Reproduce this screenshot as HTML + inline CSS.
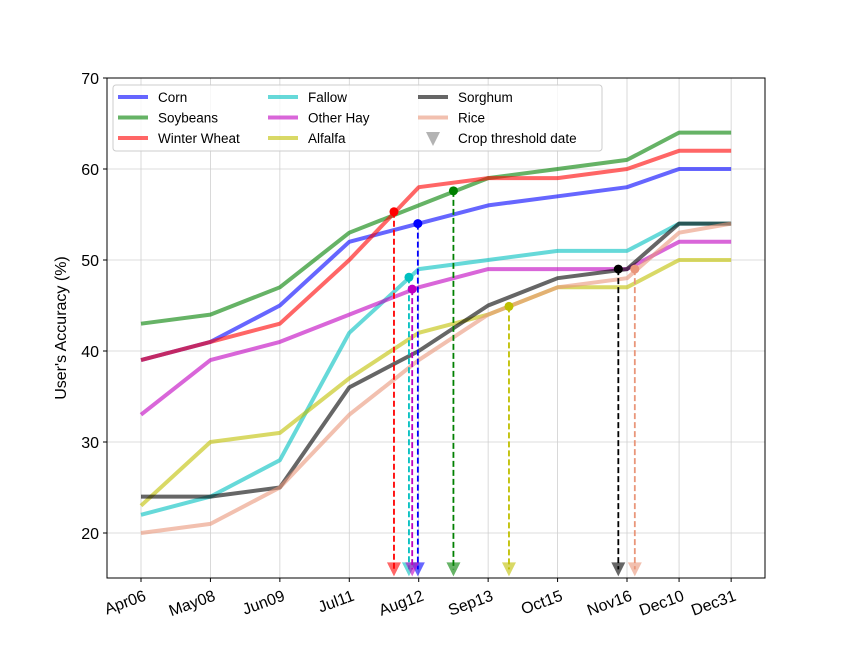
<!DOCTYPE html>
<html><head><meta charset="utf-8"><style>
body{margin:0;background:#fff;}
svg{display:block;font-family:"Liberation Sans",sans-serif;}
</style></head><body>
<svg id="chart" width="850" height="650"></svg>
<script>
const dayLabels=["Apr06","May08","Jun09","Jul11","Aug12","Sep13","Oct15","Nov16","Dec10","Dec31"];
const days=[96,128,160,192,224,256,288,320,344,368];
const corn=[39,41,45,52,54,56,57,58,60,60];
const soybeans=[43,44,47,53,56,59,60,61,64,64];
const winterWheat=[39,41,43,50,58,59,59,60,62,62];
const fallow=[22,24,28,42,49,50,51,51,54,54];
const otherHay=[33,39,41,44,47,49,49,49,52,52];
const alfalfa=[23,30,31,37,42,44,47,47,50,50];
const sorghum=[24,24,25,36,40,45,48,49,54,54];
const rice=[20,21,25,33,39,44,47,48,53,54];
const seriesNames=["Corn","Soybeans","Winter Wheat","Fallow","Other Hay","Alfalfa","Sorghum","Rice"];
const thresholdDays=[223.6,240,212.6,219.5,221,265.6,316,323.6];
const thresholdValues=[54,57.6,55.3,48.1,46.8,44.9,49,49];
const yTicks=[20,30,40,50,60,70];

const allSeries=[corn,soybeans,winterWheat,fallow,otherHay,alfalfa,sorghum,rice];
const colors=["#0000ff","#008000","#ff0000","#00bfbf","#bf00bf","#bfbf00","#000000","#e9967a"];
const slugs=["corn","soybeans","winter-wheat","fallow","other-hay","alfalfa","sorghum","rice"];
const L=107,R=765,T=78,B=578;
const x=d=>141+(d-96)*(486/224);
const y=v=>533-(v-20)*9.1;
const svg=document.getElementById('chart');
const NS="http://www.w3.org/2000/svg";
function mk(tag,attrs,parent){const e=document.createElementNS(NS,tag);for(const k in attrs)e.setAttribute(k,attrs[k]);(parent||svg).appendChild(e);return e;}

// grid
yTicks.forEach(v=>{
 const g=mk('line',{x1:L,x2:R,y1:y(v),y2:y(v),stroke:'#d0d0d0','stroke-width':0.8});
 
 
 mk('line',{x1:L-4,x2:L,y1:y(v),y2:y(v),stroke:'#000'});
 const t=mk('text',{x:L-8,y:y(v)+6,'text-anchor':'end','font-size':16});
 t.textContent=v;
 
 
});
days.forEach((d,i)=>{
 const g=mk('line',{x1:x(d),x2:x(d),y1:T,y2:B,stroke:'#d0d0d0','stroke-width':0.8});
 
 
 mk('line',{x1:x(d),x2:x(d),y1:B,y2:B+4,stroke:'#000'});
 const t=mk('text',{x:x(d)+6,y:B+22,'text-anchor':'end','font-size':16,transform:`rotate(-20 ${x(d)+6} ${B+22})`});
 t.textContent=dayLabels[i];
 
 
});

// lines
allSeries.forEach((s,i)=>{
 const p=mk('polyline',{points:s.map((v,j)=>x(days[j])+','+y(v)).join(' '),fill:'none',stroke:colors[i],'stroke-opacity':0.6,'stroke-width':4,'stroke-linejoin':'round'});
 
 
});
// thresholds
thresholdDays.forEach((d,i)=>{
 const xx=x(d),yy=y(thresholdValues[i]),ty=y(16);
 const l=mk('line',{x1:xx,x2:xx,y1:yy,y2:ty,stroke:colors[i],'stroke-width':1.8,'stroke-dasharray':'6,3'});
 
 
 const c=mk('circle',{cx:xx,cy:yy,r:4.5,fill:colors[i]});
 
 
 const tr=mk('polygon',{points:`${xx-7},${ty-7} ${xx+7},${ty-7} ${xx},${ty+7}`,fill:colors[i],'fill-opacity':0.6});
 
 
});
// axes frame
mk('rect',{x:L,y:T,width:R-L,height:B-T,fill:'none',stroke:'#000','stroke-width':1});
const yl=mk('text',{x:66,y:328,'text-anchor':'middle','font-size':16,transform:'rotate(-90 66 328)'});
yl.textContent="User's Accuracy (%)";



// legend
const lg=mk('g',{});


mk('rect',{x:113,y:85,width:489,height:66,rx:3,fill:'#fff','fill-opacity':0.8,stroke:'#ccc'},lg);
const cols=[118,268,418];
const labels=seriesNames.concat(["Crop threshold date"]);
labels.forEach((n,i)=>{
 const cx=cols[Math.floor(i/3)],cy=97+(i%3)*20.5;
 const g=mk('g',{},lg);
 
 
 if(i<8) mk('line',{x1:cx,x2:cx+30,y1:cy,y2:cy,stroke:colors[i],'stroke-opacity':0.6,'stroke-width':4},g);
 else mk('polygon',{points:`${cx+8},${cy-6} ${cx+22},${cy-6} ${cx+15},${cy+8}`,fill:'#808080','fill-opacity':0.6},g);
 const t=mk('text',{x:cx+40,y:cy+5,'font-size':13.5},g);
 t.textContent=n;
});
</script>
</body></html>
